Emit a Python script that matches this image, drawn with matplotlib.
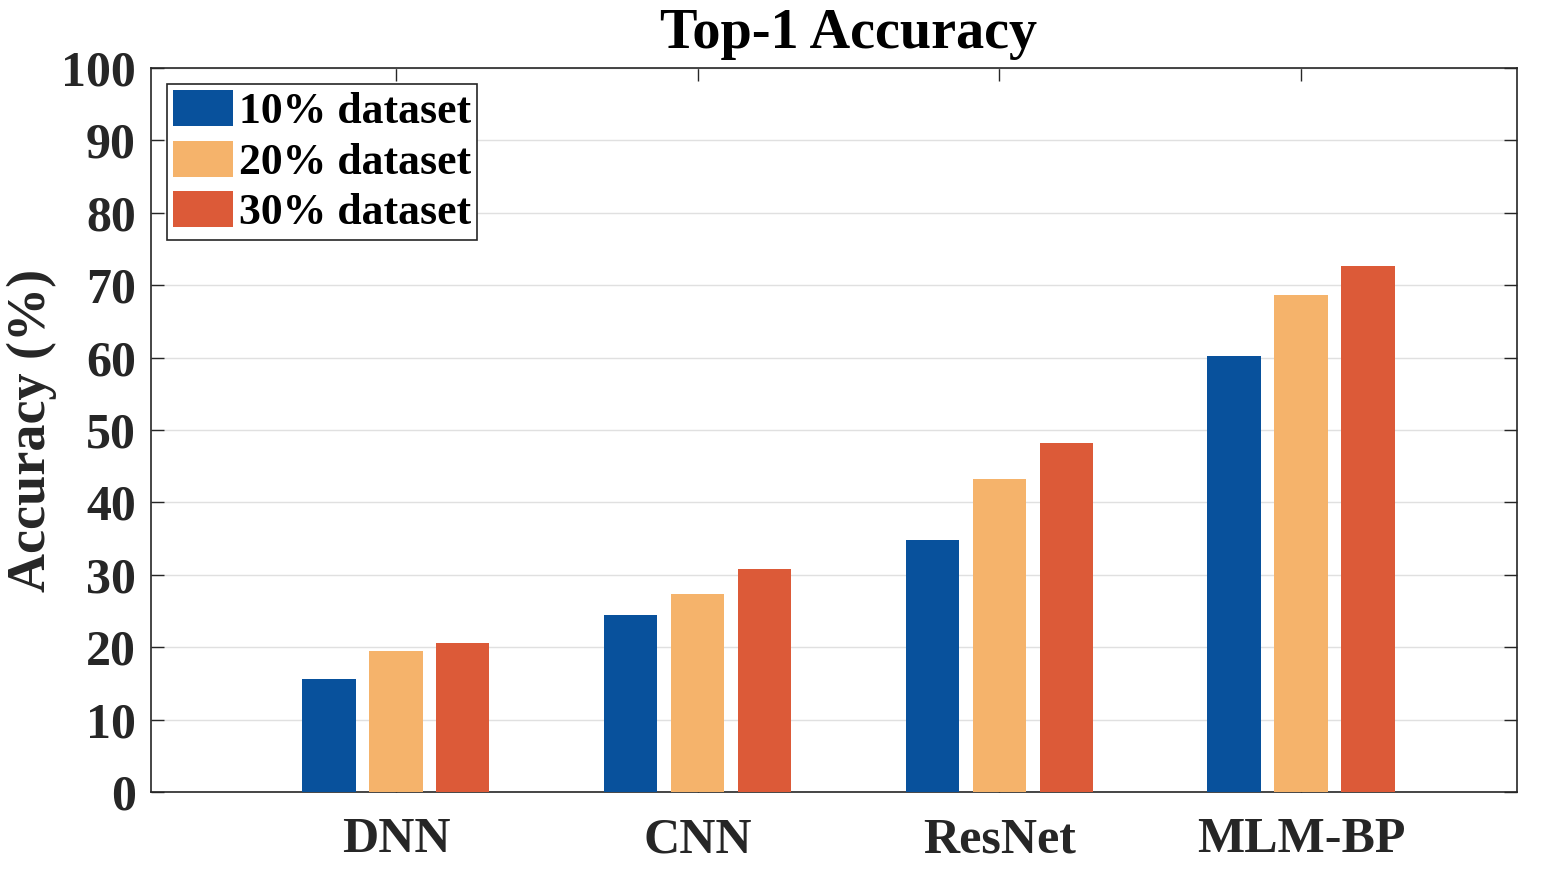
import matplotlib
matplotlib.use("Agg")
import matplotlib.pyplot as plt
import numpy as np

categories = ["DNN", "CNN", "ResNet", "MLM-BP"]
series_labels = ["10% dataset", "20% dataset", "30% dataset"]
acc_10 = [15.6, 24.4, 34.8, 60.2]
acc_20 = [19.5, 27.3, 43.2, 68.6]
acc_30 = [20.6, 30.8, 48.2, 72.7]
yticks = list(range(0, 101, 10))

colors = ["#08519C", "#F5B36B", "#DC5A38"]

plt.rcParams['font.family'] = ['Liberation Serif', 'DejaVu Serif']
plt.rcParams['font.weight'] = 'bold'

fig = plt.figure(figsize=(15.6, 8.8), dpi=100)
ax = fig.add_axes([151/1560, 88/880, (1517-151)/1560, (792-68)/880])

x = np.arange(1, len(categories) + 1)
width = 0.176
offset = 0.222
for i, (vals, lab, c) in enumerate(zip([acc_10, acc_20, acc_30], series_labels, colors)):
    ax.bar(x + (i - 1) * offset, vals, width, color=c, label=lab, zorder=3)

ax.set_xlim(0.188, 4.716)
ax.set_ylim(0, 100)
ax.set_yticks(yticks)
ax.set_xticks(x)
ax.set_xticklabels(categories)
ax.yaxis.grid(True, color="#E0E0E0", linewidth=1.0, zorder=0)
ax.set_axisbelow(True)
ax.tick_params(axis='both', direction='in', length=9.5, width=1.0, colors='#262626',
               labelsize=36, top=True, right=True)
ax.tick_params(axis='y', pad=11)
ax.tick_params(axis='x', pad=18)
for lbl in ax.get_xticklabels() + ax.get_yticklabels():
    lbl.set_fontweight('bold')
    lbl.set_color('#262626')
for s in ax.spines.values():
    s.set_color('#262626')
    s.set_linewidth(1.2)

fig.text(32/1560, (880-430)/880, "Accuracy (%)", rotation=90, ha='center', va='center',
         fontsize=39, fontweight='bold', color='#262626')
fig.text(849/1560, (880-48)/880, "Top-1 Accuracy", ha='center', va='baseline',
         fontsize=40.5, fontweight='bold', color='black')

leg = ax.legend(loc='upper left', bbox_to_anchor=(0.0117, 0.978), fontsize=31.5,
                frameon=True, fancybox=False, edgecolor='#262626', framealpha=1,
                handlelength=1.38, handleheight=0.9, handletextpad=0.12,
                labelspacing=0.19, borderpad=0.14, borderaxespad=0)
leg.get_frame().set_linewidth(1.2)
for t in leg.get_texts():
    t.set_fontweight('bold')

fig.savefig("out.png", dpi=100)
